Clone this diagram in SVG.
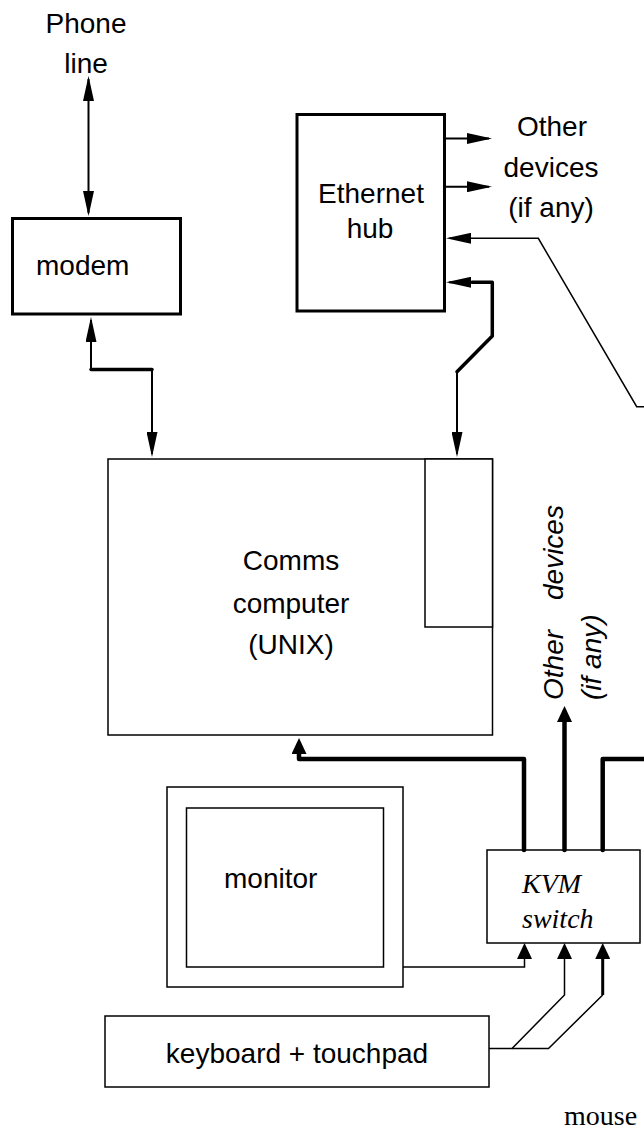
<svg xmlns="http://www.w3.org/2000/svg" width="644" height="1130" viewBox="0 0 644 1130">
<style>
.bx{fill:#fff;stroke:#000;stroke-width:1.5}
.bxt{fill:#fff;stroke:#000;stroke-width:3}
.t{font-family:"Liberation Sans",Arial,sans-serif;font-size:28px;fill:#000}
.ti{font-family:"Liberation Sans",Arial,sans-serif;font-size:28px;font-style:italic;fill:#000}
.ts{font-family:"Liberation Serif","Times New Roman",serif;font-size:28px;fill:#000}
.tsi{font-family:"Liberation Serif","Times New Roman",serif;font-size:28px;font-style:italic;fill:#000}
.c{fill:none;stroke:#000;stroke-width:2}
.c1{fill:none;stroke:#000;stroke-width:1.5}
.c3{fill:none;stroke:#000;stroke-width:3.5;stroke-linejoin:round;stroke-linecap:round}
.c4{fill:none;stroke:#000;stroke-width:4.5;stroke-linejoin:round;stroke-linecap:round}
</style>
<defs>
<marker id="al" markerUnits="userSpaceOnUse" markerWidth="25" markerHeight="11" refX="22" refY="5.5" orient="auto-start-reverse" viewBox="0 0 25 11">
<path d="M0,0 L25,5.5 L0,11 z" fill="#000"/>
</marker>
<marker id="as" markerUnits="userSpaceOnUse" markerWidth="16" markerHeight="15" refX="10" refY="7.5" orient="auto-start-reverse" viewBox="0 0 16 15">
<path d="M0,0 L16,7.5 L0,15 z" fill="#000"/>
</marker>
</defs>

<g id="phone-line">
<text class="t" x="86" y="33" text-anchor="middle">Phone</text>
<text class="t" x="86" y="73" text-anchor="middle">line</text>
</g>

<g id="modem">
<rect class="bxt" x="12.5" y="218.5" width="168" height="95.5"/>
<text class="t" x="36" y="275">modem</text>
</g>

<g id="ethernet-hub">
<rect class="bxt" x="297" y="114.5" width="147.5" height="196.5"/>
<text class="t" x="371" y="203" text-anchor="middle">Ethernet</text>
<text class="t" x="370" y="238" text-anchor="middle">hub</text>
</g>

<g id="other-devices-hub">
<text class="t" x="552" y="136" text-anchor="middle">Other</text>
<text class="t" x="551" y="177" text-anchor="middle">devices</text>
<text class="t" x="551" y="217" text-anchor="middle">(if any)</text>
</g>

<g id="comms-computer">
<rect class="bx" x="108" y="459" width="384.5" height="276"/>
<rect class="bx" x="425" y="459" width="67.5" height="168"/>
<text class="t" x="291" y="570" text-anchor="middle">Comms</text>
<text class="t" x="291" y="613" text-anchor="middle">computer</text>
<text class="t" x="291" y="654" text-anchor="middle">(UNIX)</text>
</g>

<g id="other-devices-kvm">
<text class="ti" transform="translate(563,700) rotate(-90)"><tspan x="0" y="0">Other</tspan><tspan x="100" y="0">devices</tspan></text>
<text class="ti" transform="translate(601,700) rotate(-90)">(if any)</text>
</g>

<g id="monitor">
<rect class="bx" x="167" y="787" width="236" height="200"/>
<rect class="bx" x="186.5" y="808" width="197" height="159"/>
<text class="t" x="224" y="888">monitor</text>
</g>

<g id="kvm-switch">
<rect class="bx" x="487" y="850" width="153" height="93"/>
<text class="tsi" x="522" y="893">KVM</text>
<text class="tsi" x="522" y="928">switch</text>
</g>

<g id="keyboard">
<rect class="bx" x="105" y="1016" width="384" height="71"/>
<text class="t" x="297" y="1063" text-anchor="middle">keyboard + touchpad</text>
</g>

<g id="mouse">
<text class="ts" x="564" y="1125">mouse</text>
</g>

<g id="connectors">
<path class="c" d="M88.5,79 V213" marker-start="url(#al)" marker-end="url(#al)"/>
<path class="c" d="M91,320 V369.5 H152 V454" marker-start="url(#al)" marker-end="url(#al)"/>
<path class="c3" d="M91,369.5 H152"/>
<path class="c" d="M446,138.5 H489" marker-end="url(#al)"/>
<path class="c" d="M446,186.7 H489" marker-end="url(#al)"/>
<path class="c1" d="M644,406.7 H636.7 L538.3,238.3 H449" marker-end="url(#al)"/>
<path class="c" d="M457,371.7 V454" marker-end="url(#al)"/>
<path class="c3" d="M457,371.7 L492.3,336 V282.3 H472"/>
<path class="c" d="M475,282.3 H449" marker-end="url(#al)"/>
<path class="c4" d="M524,850 V759 H299 V744" marker-end="url(#as)"/>
<path class="c4" d="M564.5,850 V712" marker-end="url(#as)"/>
<path class="c4" d="M602.7,850 V759 H646"/>
<path class="c1" d="M403,967 H524.5 V949" marker-end="url(#as)"/>
<path class="c1" d="M489,1048.5 H512 L564.5,995 V949" marker-end="url(#as)"/>
<path class="c1" d="M512,1048.5 H548.5 L602.7,995"/>
<path class="c" style="stroke-width:3" d="M602.7,995 V949" marker-end="url(#as)"/>
</g>
</svg>
